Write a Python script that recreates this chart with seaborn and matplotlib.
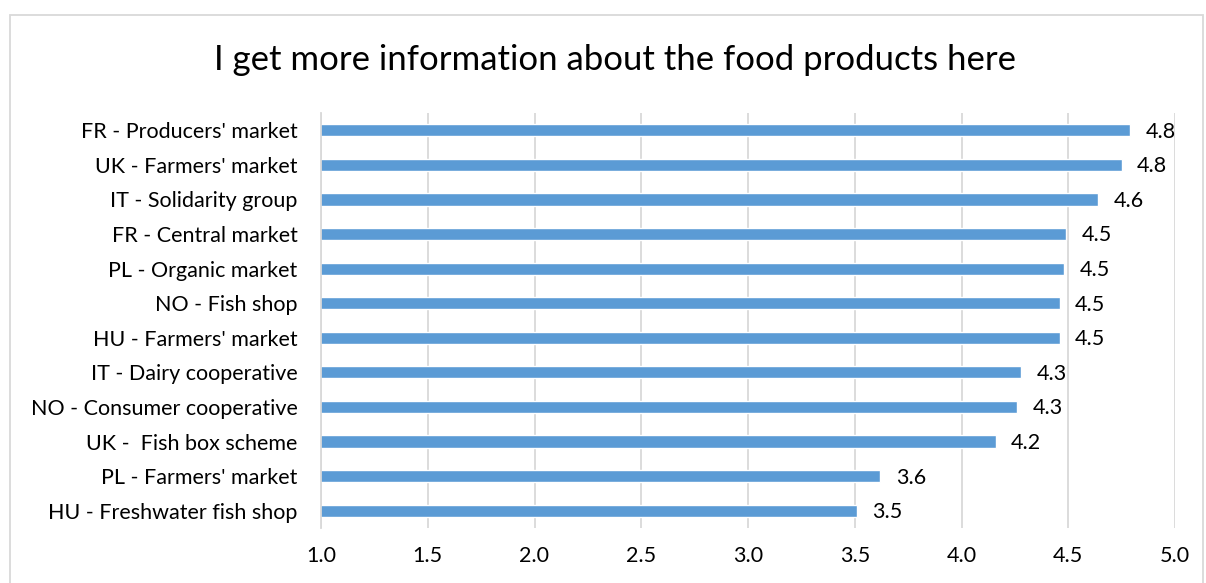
import matplotlib
matplotlib.use("Agg")
import matplotlib.pyplot as plt
import seaborn as sns
import pandas as pd
from matplotlib.patches import Rectangle

categories = [
    "FR - Producers' market",
    "UK - Farmers' market",
    "IT - Solidarity group",
    "FR - Central market",
    "PL - Organic market",
    "NO - Fish shop",
    "HU - Farmers' market",
    "IT - Dairy cooperative",
    "NO - Consumer cooperative",
    "UK -  Fish box scheme",
    "PL - Farmers' market",
    "HU - Freshwater fish shop",
]
values = [4.79, 4.75, 4.64, 4.49, 4.48, 4.46, 4.46, 4.28, 4.26, 4.16, 3.62, 3.51]
x_ticks = [1.0, 1.5, 2.0, 2.5, 3.0, 3.5, 4.0, 4.5, 5.0]
title = "I get more information about the food products here"

sns.set_theme(style="white")
plt.rcParams["font.family"] = ["Lato", "DejaVu Sans"]

df = pd.DataFrame({"cat": categories, "val": values})

W, H = 1206, 583
fig = plt.figure(figsize=(W / 100, H / 100), dpi=100)
ax = fig.add_axes([321 / W, 1 - 528 / H, (1175 - 321) / W, (528 - 113) / H])

sns.barplot(data=df, y="cat", x="val", orient="h", color="#5B9BD5",
            width=0.35, saturation=1, ax=ax, order=categories)
ax.set_xlim(1.0, 5.0)
ax.set_xticks(x_ticks)
ax.set_xticklabels([f"{t:.1f}" for t in x_ticks], fontsize=15.5, color="#000000")
ax.set_ylabel("")
ax.set_xlabel("")
ax.tick_params(axis="y", labelsize=15.5, colors="#000000", length=0, pad=17)
ax.tick_params(axis="x", length=0, pad=13)
ax.grid(axis="x", color="#D9D9D9", linewidth=1.3)
ax.set_axisbelow(True)
for s in ["top", "right", "bottom"]:
    ax.spines[s].set_visible(False)
ax.spines["left"].set_color("#D9D9D9")
ax.spines["left"].set_linewidth(1.3)

for i, v in enumerate(values):
    ax.annotate(f"{v:.1f}", xy=(v, i), xytext=(11, -1), textcoords="offset points",
                va="center", ha="left", fontsize=15.5, color="#000000")

fig.text(615 / W, 1 - 60 / H, title, ha="center", va="center", fontsize=25, color="#000000")

fig.patches.append(Rectangle((10 / W, -0.01), (1203 - 10) / W, 1 - 15 / H + 0.01,
                             transform=fig.transFigure, fill=False,
                             edgecolor="#D9D9D9", linewidth=1.3))

fig.savefig("out.png", dpi=100, facecolor="white")
